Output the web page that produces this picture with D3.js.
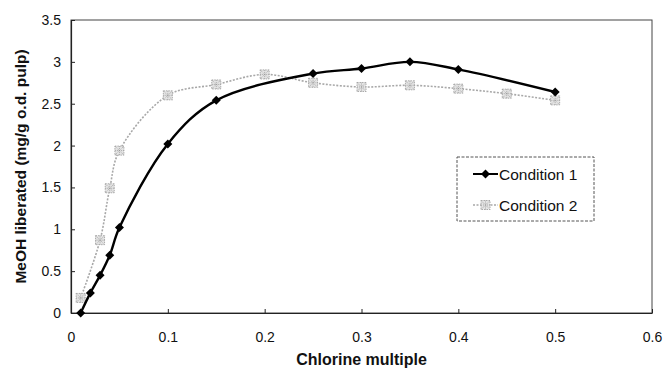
<!DOCTYPE html>
<html><head><meta charset="utf-8">
<script src="https://cdn.jsdelivr.net/npm/d3@7"></script>
<style>body{margin:0;background:#fff}svg{display:block}text{font-family:"Liberation Sans",Arial,sans-serif}</style>
</head><body><svg id="c" width="667" height="372"></svg>
<script>
const cond1X = [0.01,0.02,0.03,0.04,0.05,0.1,0.15,0.25,0.3,0.35,0.4,0.5];
const cond1Y = [0,0.24,0.45,0.69,1.02,2.02,2.54,2.86,2.92,3.0,2.91,2.64];
const cond2X = [0.01,0.03,0.04,0.05,0.1,0.15,0.2,0.25,0.3,0.35,0.4,0.45,0.5];
const cond2Y = [0.18,0.87,1.49,1.94,2.60,2.73,2.85,2.75,2.70,2.72,2.68,2.62,2.54];
const xTicks = [0,0.1,0.2,0.3,0.4,0.5,0.6];
const yTicks = [0,0.5,1,1.5,2,2.5,3,3.5];
const seriesNames = ["Condition 1","Condition 2"];

const svg = d3.select("#c");
const m = {l:71, t:20, r:652, b:313};
const x = d3.scaleLinear().domain([0,0.6]).range([m.l,m.r]);
const y = d3.scaleLinear().domain([0,3.5]).range([m.b,m.t]);

// plot border
svg.append("rect").attr("x",m.l).attr("y",m.t).attr("width",m.r-m.l).attr("height",m.b-m.t)
  .attr("fill","none").attr("stroke","#444").attr("stroke-width",1);

const xa = svg.append("g").attr("transform",`translate(0,${m.b})`)
  .call(d3.axisBottom(x).tickValues(xTicks).tickFormat(d=>d===0?"0":d3.format(".1f")(d)).tickSizeInner(-4).tickSizeOuter(0).tickPadding(19));
const ya = svg.append("g").attr("transform",`translate(${m.l},0)`)
  .call(d3.axisLeft(y).tickValues(yTicks).tickFormat(d=>d3.format("~g")(d)).tickSizeInner(-4).tickSizeOuter(0).tickPadding(10));
[xa,ya].forEach(a=>{a.select(".domain").attr("stroke","#222").attr("stroke-width",1.2);
  a.selectAll("line").attr("stroke","#222");
  a.selectAll("text").attr("font-size",14).attr("fill","#111").attr("font-family",'"Liberation Sans",Arial,sans-serif');});

svg.append("text").attr("x",(m.l+m.r)/2).attr("y",365).attr("text-anchor","middle")
  .attr("font-size",16).attr("font-weight","bold").attr("fill","#111").text("Chlorine multiple");
svg.append("text").attr("transform",`translate(26,${(m.t+m.b)/2}) rotate(-90)`).attr("text-anchor","middle")
  .attr("font-size",15.5).attr("font-weight","bold").attr("fill","#111").text("MeOH liberated (mg/g o.d. pulp)");

const line = d3.line().x(d=>x(d[0])).y(d=>y(d[1])).curve(d3.curveCatmullRom.alpha(0.5));
const d1 = cond1X.map((v,i)=>[v,cond1Y[i]]);
const d2 = cond2X.map((v,i)=>[v,cond2Y[i]]);

function greyMarker(g, cx, cy){
  const s=4.5;
  g.append("rect").attr("x",cx-s).attr("y",cy-s).attr("width",2*s).attr("height",2*s)
    .attr("fill","#e4e4e4").attr("stroke","#aaa").attr("stroke-width",1).attr("stroke-dasharray","1.5,1");
  g.append("path").attr("d",`M${cx-s},${cy-s}L${cx+s},${cy+s}M${cx-s},${cy+s}L${cx+s},${cy-s}M${cx},${cy-s}V${cy+s}M${cx-s},${cy}H${cx+s}`)
    .attr("stroke","#999").attr("stroke-width",0.8).attr("stroke-dasharray","1,1");
}
function diamond(g, cx, cy, s){
  g.append("path").attr("d",`M${cx},${cy-s}L${cx+s},${cy}L${cx},${cy+s}L${cx-s},${cy}Z`).attr("fill","#000");
}

svg.append("path").datum(d2).attr("d",line).attr("fill","none").attr("stroke","#a8a8a8").attr("stroke-width",1.6).attr("stroke-dasharray","2,1.5");
const g2 = svg.append("g");
d2.forEach(d=>greyMarker(g2,x(d[0]),y(d[1])));

svg.append("path").datum(d1).attr("d",line).attr("fill","none").attr("stroke","#000").attr("stroke-width",2.4);
const g1 = svg.append("g");
d1.forEach(d=>diamond(g1,x(d[0]),y(d[1]),4.5));

// legend
const lg = svg.append("g");
lg.append("rect").attr("x",457).attr("y",157).attr("width",137).attr("height",64)
  .attr("fill","#fff").attr("stroke","#555").attr("stroke-width",1).attr("stroke-dasharray","3,1.5");
const ly=[174,205];
lg.append("line").attr("x1",473).attr("x2",498).attr("y1",ly[0]).attr("y2",ly[0]).attr("stroke","#000").attr("stroke-width",2);
diamond(lg,485.5,ly[0],4.5);
lg.append("line").attr("x1",473).attr("x2",498).attr("y1",ly[1]).attr("y2",ly[1]).attr("stroke","#a8a8a8").attr("stroke-width",1.6).attr("stroke-dasharray","2,1.5");
greyMarker(lg,485.5,ly[1]);
seriesNames.forEach((n,i)=>lg.append("text").attr("x",499).attr("y",ly[i]+5.5).attr("font-size",15.5).attr("fill","#111").text(n));
</script></body></html>
